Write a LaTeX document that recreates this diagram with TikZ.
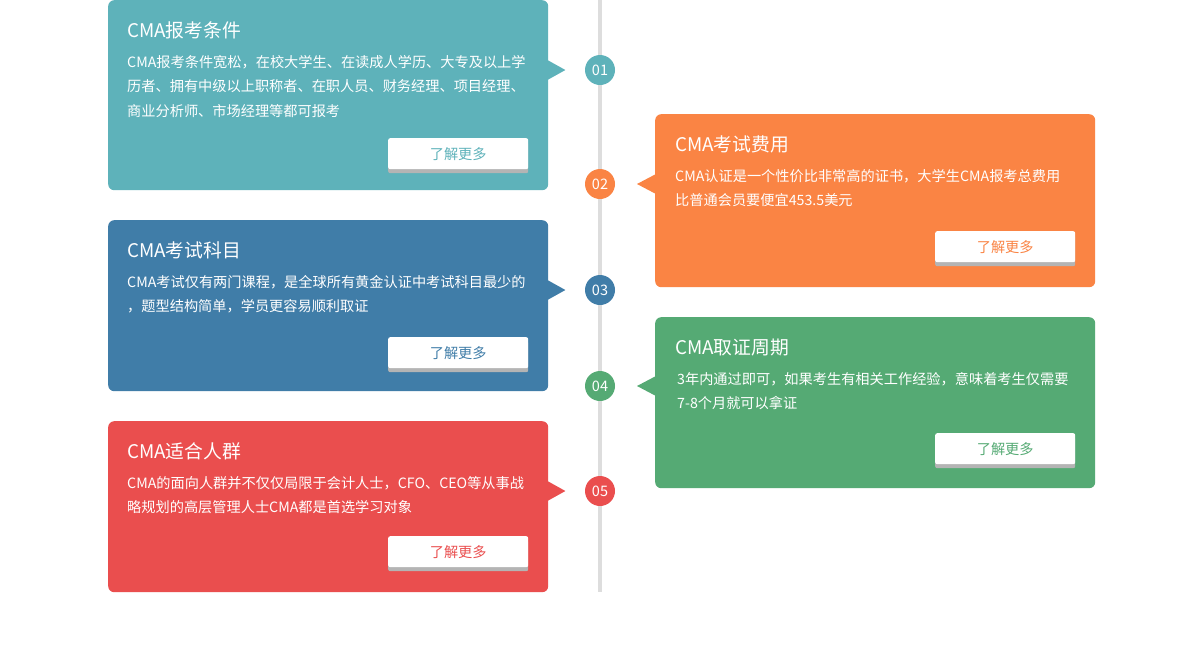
\documentclass[tikz,border=0pt]{standalone}
\usepackage{fontspec}
\setmainfont{Noto Sans CJK SC}
\usetikzlibrary{positioning,shadows}
\definecolor{cmaTeal}{HTML}{5EB2BA}
\definecolor{cmaOrange}{HTML}{FA8444}
\definecolor{cmaBlue}{HTML}{407DA8}
\definecolor{cmaGreen}{HTML}{55AA74}
\definecolor{cmaRed}{HTML}{EA4E4E}
\definecolor{lineGray}{HTML}{DDDDDD}
\definecolor{btnShadow}{HTML}{B4B4B4}

\begin{document}
\begin{tikzpicture}[x=1pt,y=-1pt,
	card/.style={rectangle, rounded corners=6pt, anchor=north west, inner sep=0pt, minimum width=440pt},
	cardTitle/.style={anchor=base west, inner sep=0pt, text=white, font=\fontsize{18.8}{18.8}\selectfont},
	cardText/.style={anchor=north west, inner sep=0pt, text=white, align=left, font=\fontsize{14.2}{24.5}\selectfont},
	moreButton/.style={rectangle, rounded corners=2pt, fill=white, minimum width=140pt, minimum height=31pt, inner sep=0pt, anchor=south east, font=\fontsize{14.2}{14.2}\selectfont, drop shadow={shadow xshift=0pt, shadow yshift=-4pt, opacity=1, fill=btnShadow}},
	stepDot/.style={circle, minimum size=30pt, inner sep=0pt, text=white, font=\fontsize{14.5}{14.5}\selectfont},
	timeline/.style={line width=4pt, draw=lineGray}]
			\fill[white] (0,0) rectangle (1200,662);
			\useasboundingbox (0,0) rectangle (1200,662);
			
			\coordinate (lineTop) at (600,0);
			\coordinate (lineBottom) at (600,592);
			\draw[timeline] (lineTop) -- (lineBottom);
			
			\node[card, fill=cmaTeal, minimum height=190pt] (cardOne) at (108,0) {};
			\node[cardTitle] (titleOne) at ([shift={(19,37)}]cardOne.north west) {CMA报考条件};
			\node[cardText] (textOne) at ([shift={(19,55)}]cardOne.north west) {CMA报考条件宽松，在校大学生、在读成人学历、大专及以上学\\历者、拥有中级以上职称者、在职人员、财务经理、项目经理、\\商业分析师、市场经理等都可报考};
			\node[moreButton, text=cmaTeal] (buttonOne) at ([shift={(-20,-21)}]cardOne.south east) {了解更多};
			\node[stepDot, fill=cmaTeal] (circleOne) at (600,70) {01};
			\fill[cmaTeal] (cardOne.east |- circleOne) ++(-1,-10) -- ++(18,10) -- ++(-18,10) -- cycle;
			
			\node[card, fill=cmaOrange, minimum height=173pt] (cardTwo) at (655,114) {};
			\node[cardTitle] (titleTwo) at ([shift={(20,37)}]cardTwo.north west) {CMA考试费用};
			\node[cardText] (textTwo) at ([shift={(20,55)}]cardTwo.north west) {CMA认证是一个性价比非常高的证书，大学生CMA报考总费用\\比普通会员要便宜453.5美元};
			\node[moreButton, text=cmaOrange] (buttonTwo) at ([shift={(-20,-25)}]cardTwo.south east) {了解更多};
			\node[stepDot, fill=cmaOrange] (circleTwo) at (600,184) {02};
			\fill[cmaOrange] (cardTwo.west |- circleTwo) ++(1,-10) -- ++(-19,10) -- ++(19,10) -- cycle;
			
			\node[card, fill=cmaBlue, minimum height=171pt] (cardThree) at (108,220) {};
			\node[cardTitle] (titleThree) at ([shift={(19,37)}]cardThree.north west) {CMA考试科目};
			\node[cardText] (textThree) at ([shift={(19,55)}]cardThree.north west) {CMA考试仅有两门课程，是全球所有黄金认证中考试科目最少的\\，题型结构简单，学员更容易顺利取证};
			\node[moreButton, text=cmaBlue] (buttonThree) at ([shift={(-20,-23)}]cardThree.south east) {了解更多};
			\node[stepDot, fill=cmaBlue] (circleThree) at (600,290) {03};
			\fill[cmaBlue] (cardThree.east |- circleThree) ++(-1,-10) -- ++(18,10) -- ++(-18,10) -- cycle;
			
			\node[card, fill=cmaGreen, minimum height=171pt] (cardFour) at (655,317) {};
			\node[cardTitle] (titleFour) at ([shift={(20,37)}]cardFour.north west) {CMA取证周期};
			\node[cardText] (textFour) at ([shift={(22,55)}]cardFour.north west) {3年内通过即可，如果考生有相关工作经验，意味着考生仅需要\\7-8个月就可以拿证};
			\node[moreButton, text=cmaGreen] (buttonFour) at ([shift={(-20,-24)}]cardFour.south east) {了解更多};
			\node[stepDot, fill=cmaGreen] (circleFour) at (600,386) {04};
			\fill[cmaGreen] (cardFour.west |- circleFour) ++(1,-10) -- ++(-19,10) -- ++(19,10) -- cycle;
			
			\node[card, fill=cmaRed, minimum height=171pt] (cardFive) at (108,421) {};
			\node[cardTitle] (titleFive) at ([shift={(19,37)}]cardFive.north west) {CMA适合人群};
			\node[cardText] (textFive) at ([shift={(19,55)}]cardFive.north west) {CMA的面向人群并不仅仅局限于会计人士，CFO、CEO等从事战\\略规划的高层管理人士CMA都是首选学习对象};
			\node[moreButton, text=cmaRed] (buttonFive) at ([shift={(-20,-25)}]cardFive.south east) {了解更多};
			\node[stepDot, fill=cmaRed] (circleFive) at (600,491) {05};
			\fill[cmaRed] (cardFive.east |- circleFive) ++(-1,-10) -- ++(18,10) -- ++(-18,10) -- cycle;
		\end{tikzpicture}
\end{document}
